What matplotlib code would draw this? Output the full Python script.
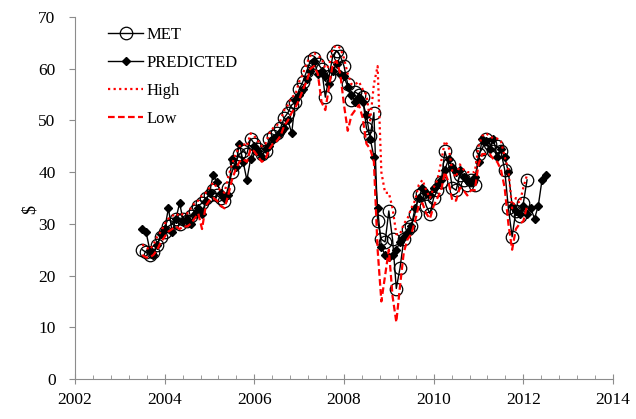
import matplotlib
matplotlib.use("Agg")
import matplotlib.pyplot as plt
from matplotlib.ticker import MultipleLocator
import numpy as np

# Monthly values, MET/High/Low start Jul 2003, PREDICTED starts Jul 2003
met = [25, 24.5, 24, 24.5, 26, 27.5,
       28.5, 29.5, 30, 31, 30, 31, 30.5, 31.5, 32.5, 33.5, 34, 35,
       35.5, 36.5, 35.5, 35, 34.5, 37, 40, 42, 43.5, 44, 43.5, 46.5,
       45.5, 44.5, 43.5, 44, 46.5, 47, 47.5, 48.5, 50.5, 51.5, 53, 53.5,
       56, 57.5, 59.5, 61.5, 62, 61, 60, 54.5, 58.5, 62.5, 63.5, 62.5,
       60.5, 57, 54, 55.5, 55, 54.5, 48.5, 47, 51.5, 30.5, 27, 26.5,
       32.5, 27, 17.5, 21.5, 27, 29, 29.5, 32, 35.5, 36, 33.5, 32,
       35, 36.5, 38, 44, 41.5, 37, 36.5, 39.5, 38.5, 37.5, 38.5, 37.5,
       43.5, 44.5, 46.5, 45.5, 44, 45, 44, 40.5, 33, 27.5, 32.5, 31.5,
       34, 38.5]

predicted = [29, 28.5, 25, 24, 26, 28,
             29, 33, 28.5, 31, 34, 30.5, 31, 30, 32, 33, 32, 34.5,
             36, 39.5, 38, 36, 35, 35.5, 42.5, 41, 45.5, 42, 38.5, 42.5,
             45, 44, 43, 44.5, 45, 46.5, 47, 47.5, 48.5, 50, 47.5, 54,
             55, 56, 58, 59.5, 61.5, 59, 59.5, 58.5, 57, 59.5, 61, 59,
             58.5, 56.5, 55, 53.5, 54.5, 53.5, 51, 46.5, 43, 33, 25.5, 24,
             23.5, 24, 25, 26.5, 27.5, 28.5, 29.5, 33, 35, 37, 36, 35.5,
             37, 37.5, 38.5, 40.5, 42.5, 41, 40, 40.5, 39, 38.5, 38, 39,
             42, 46.5, 46, 44.5, 46.5, 43, 44.5, 43, 40, 33.5, 32.5, 32,
             33.5, 32, 33, 31, 33.5, 38.5, 39.5]

high = [26, 25.5, 25, 26, 27.5, 28.5,
        30, 31, 31.5, 32, 31.5, 32, 32, 33, 34, 34.5, 35.5, 36,
        37, 38, 37, 36.5, 36, 39, 41.5, 43.5, 45, 45.5, 45, 47.5,
        47, 46, 45, 45.5, 47.5, 48.5, 49, 50, 52, 53, 54.5, 55,
        57.5, 59, 61, 62.5, 63, 62.5, 62, 60, 60.5, 64, 64.5, 64,
        62, 59, 57, 57, 57.5, 56, 55, 50, 57, 60.5, 40, 36,
        36, 33, 28, 28, 30, 31, 33, 34.5, 37.5, 38.5, 36.5, 35,
        37, 38.5, 42, 46, 45, 40, 39, 41.5, 40.5, 40, 40, 40,
        45, 47, 47.5, 47, 46.5, 46.5, 46, 43, 40.5, 33, 35, 34,
        37, 39.5]

low = [24, 23.5, 23.5, 24, 25, 26.5,
       27.5, 28.5, 29, 29.5, 29, 29.5, 29.5, 30, 31, 32, 29, 33.5,
       34.5, 35, 34.5, 33.5, 33, 35.5, 38.5, 40.5, 42, 42.5, 42, 44.5,
       44, 43, 42, 42.5, 44.5, 45.5, 46, 47, 49, 50, 51.5, 52.5,
       54, 56, 57.5, 60, 60.5, 59, 53.5, 52, 56.5, 61, 61.5, 59,
       53, 48, 51, 52, 53, 50.5, 45.5, 44.5, 42, 25, 15, 20,
       25, 16, 11, 18, 24.5, 27, 28, 30.5, 33.5, 34, 32, 31,
       33.5, 35, 36.5, 40, 38, 34.5, 34.5, 37, 36.5, 35.5, 36.5, 36.5,
       41.5, 43.5, 43.5, 43.5, 42.5, 42, 40.5, 37, 30, 25, 29, 30,
       30.5, 33.5]

start_year = 2003.5
t_met = start_year + np.arange(len(met)) / 12.0
t_pred = start_year + np.arange(len(predicted)) / 12.0
t_high = start_year + np.arange(len(high)) / 12.0
t_low = start_year + np.arange(len(low)) / 12.0

plt.rcParams['font.family'] = ['Liberation Serif', 'DejaVu Serif']

fig = plt.figure(figsize=(6.36, 4.19), dpi=100)
ax = fig.add_axes([75/636, 1-379/419, (613-75)/636, (379-17)/419])

ax.plot(t_met, met, color='black', lw=1.0, marker='o', markersize=9,
        markerfacecolor='none', markeredgecolor='black', markeredgewidth=0.9, label='MET')
ax.plot(t_pred, predicted, color='black', lw=1.0, marker='D', markersize=4.2,
        markerfacecolor='black', markeredgecolor='black', label='PREDICTED')
ax.plot(t_high, high, color='#FF0000', lw=1.6, linestyle=(0, (1, 1.5)), label='High')
ax.plot(t_low, low, color='#FF0000', lw=1.6, linestyle=(0, (3, 1.5)), label='Low')

ax.set_xlim(2002, 2014)
ax.set_ylim(0, 70)
ax.xaxis.set_major_locator(MultipleLocator(2))
ax.xaxis.set_minor_locator(MultipleLocator(0.4))
ax.yaxis.set_major_locator(MultipleLocator(10))

for s in ['top', 'right']:
    ax.spines[s].set_visible(False)
for s in ['left', 'bottom']:
    ax.spines[s].set_color('#8c8c8c')
    ax.spines[s].set_linewidth(0.8)

ax.tick_params(axis='x', which='major', direction='inout', length=7, color='#8c8c8c',
               labelsize=12.5, pad=6)
ax.tick_params(axis='x', which='minor', direction='in', length=3, color='#8c8c8c')
ax.tick_params(axis='y', which='major', direction='out', length=4, color='#8c8c8c',
               labelsize=12.5, pad=10)

ax.set_ylabel('$', fontsize=13)
ax.yaxis.set_label_coords(30/636, 0.5, transform=fig.transFigure)
ax.yaxis.label.set_verticalalignment('center')

leg = ax.legend(loc='upper left', bbox_to_anchor=(108/636, 1-27/419),
                bbox_transform=fig.transFigure, frameon=False, fontsize=12,
                handlelength=2.1, handletextpad=0.2, labelspacing=0.72,
                borderpad=0, borderaxespad=0)

fig.savefig('out.png', dpi=100)
